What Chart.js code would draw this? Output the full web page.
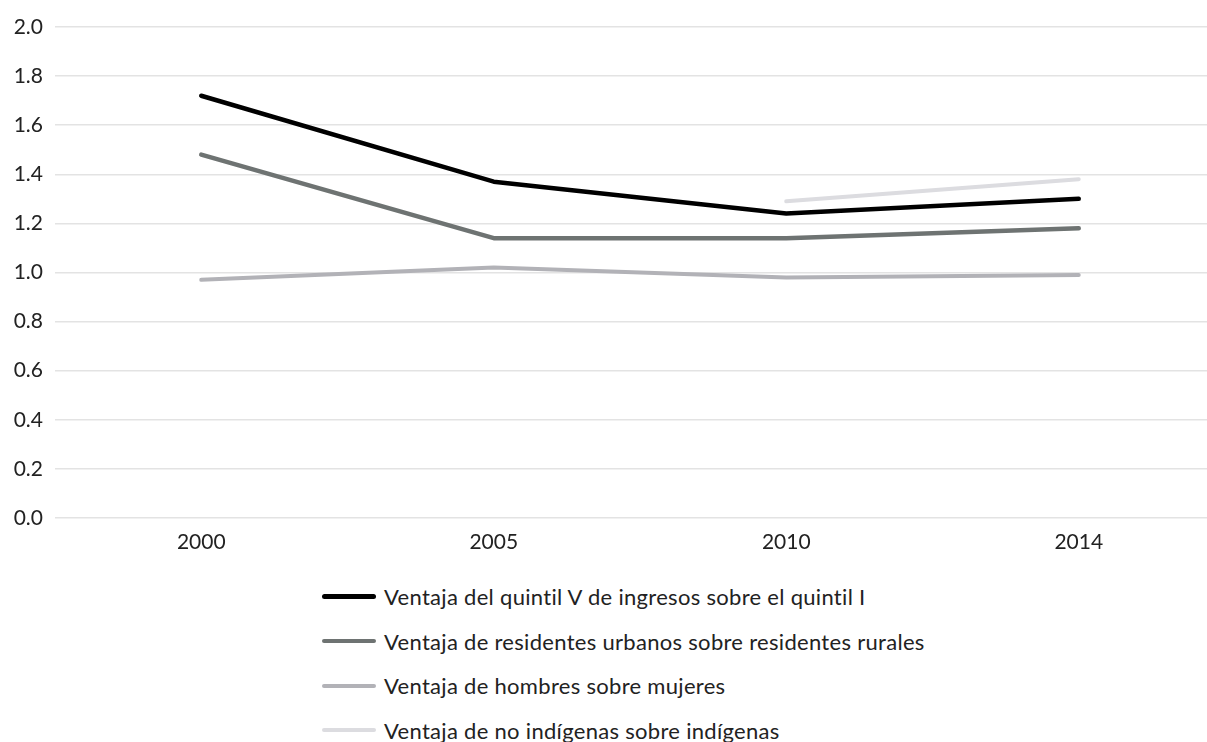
<!DOCTYPE html>
<html lang="es">
<head>
<meta charset="utf-8">
<title>Ventajas relativas</title>
<script src="https://cdn.jsdelivr.net/npm/chart.js@4"></script>
<style>
  html, body {
    margin: 0;
    padding: 0;
    background: #ffffff;
    overflow: hidden;
    width: 1207px;
    height: 742px;
    font-family: Lato, "Open Sans", sans-serif;
  }
  #chartBox {
    position: absolute;
    left: 0;
    top: 0;
    width: 1225px;
    height: 560px;
  }
  #legend {
    position: absolute;
    left: 322px;
    top: 574px;
    margin: 0;
    padding: 0;
    list-style: none;
  }
  #legend li {
    display: flex;
    align-items: center;
    height: 44.7px;
    font-size: 22px;
    letter-spacing: 0.3px;
    color: #222;
  }
  #legend .swatch {
    display: inline-block;
    width: 54px;
    border-radius: 3px;
    margin-right: 8px;
  }
</style>
</head>
<body>
<div id="chartBox"><canvas id="lineChart"></canvas></div>
<ul id="legend"></ul>

<script>
  // data
  const years = ["2000", "2005", "2010", "2014"];
  const quintilV = [1.72, 1.37, 1.24, 1.30];
  const urbanos = [1.48, 1.14, 1.14, 1.18];
  const hombres = [0.97, 1.02, 0.98, 0.99];
  const noIndigenas = [null, null, 1.29, 1.38];

  const seriesNames = [
    "Ventaja del quintil V de ingresos sobre el quintil I",
    "Ventaja de residentes urbanos sobre residentes rurales",
    "Ventaja de hombres sobre mujeres",
    "Ventaja de no indígenas sobre indígenas"
  ];

  const lineColors = ["#000000", "#6e7372", "#b2b2b7", "#dcdce0"];
  const lineWidths = [4.5, 4.5, 4, 4];

  const seriesValues = [quintilV, urbanos, hombres, noIndigenas];

  const datasets = seriesValues.map((vals, i) => ({
    label: seriesNames[i],
    data: vals,
    borderColor: lineColors[i],
    backgroundColor: lineColors[i],
    borderWidth: lineWidths[i],
    borderCapStyle: "round",
    borderJoinStyle: "round",
    pointRadius: 0,
    tension: 0,
    spanGaps: false
  }));

  const ctx = document.getElementById("lineChart");

  const chart = new Chart(ctx, {
    type: "line",
    data: {
      labels: years,
      datasets: datasets.slice().reverse()
    },
    options: {
      responsive: true,
      maintainAspectRatio: false,
      animation: false,
      layout: {
        padding: { top: 27, right: 0, bottom: 0, left: 0 }
      },
      plugins: {
        legend: { display: false },
        tooltip: { enabled: false }
      },
      scales: {
        x: {
          offset: true,
          grid: { display: false, drawTicks: false },
          border: { display: false },
          ticks: {
            color: "#222",
            font: { family: "Lato", size: 21 },
            padding: 12,
            maxRotation: 0
          },
          afterFit: scale => { scale.height = 42; }
        },
        y: {
          min: 0,
          max: 2,
          grid: {
            color: "#e3e3e3",
            lineWidth: 1.5,
            drawTicks: false
          },
          border: { display: false },
          ticks: {
            stepSize: 0.2,
            color: "#222",
            font: { family: "Lato", size: 21 },
            padding: 12,
            callback: value => Number(value).toFixed(1)
          },
          afterFit: scale => { scale.width = 55; }
        }
      }
    }
  });

  /* =========================
   LEGEND (vertical list)
========================= */

  const legendEl = document.getElementById("legend");

  datasets.forEach(ds => {
    const li = document.createElement("li");
    const sw = document.createElement("span");
    sw.className = "swatch";
    sw.style.height = ds.borderWidth + "px";
    sw.style.background = ds.borderColor;
    li.appendChild(sw);
    li.appendChild(document.createTextNode(ds.label));
    legendEl.appendChild(li);
  });
</script>
</body>
</html>
